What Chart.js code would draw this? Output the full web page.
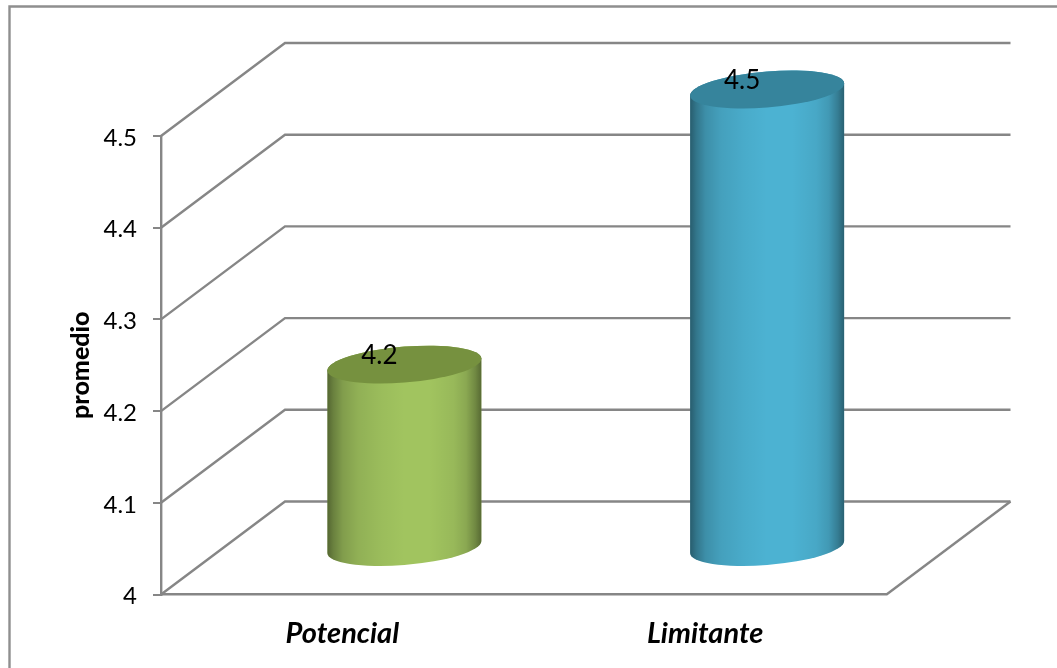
<!DOCTYPE html>
<html>
<head>
<meta charset="utf-8">
<style>html,body{margin:0;padding:0;background:#fff}canvas{display:block}</style>
<script src="https://cdn.jsdelivr.net/npm/chart.js@4/dist/chart.umd.js"></script>
</head>
<body>
<canvas id="c" width="1057" height="668"></canvas>
<script>
// Chart values
const categories = ['Potencial', 'Limitante'];
const promedio = [4.2, 4.5];
const yTickLabels = ['4', '4.1', '4.2', '4.3', '4.4', '4.5'];
const axisTitle = 'promedio';

// Cylinder colours per category
const sideColors = ['#a1c45f', '#4cb2d2'];
const capColors = ['#76913f', '#36849c'];

const LINE = '#868686';
const FONT = 'Lato, Carlito, sans-serif';
const DEPTH_X = 124, DEPTH_Y = 93;      // floor depth of the 3D box
const CAP_B = 18, CAP_TILT = 6;         // cap ellipse half-height and slant

// Bars are drawn as tilted cylinders standing mid-way along the floor depth
Chart.BarElement.prototype.draw = function (ctx) {
  const i = this.$context.dataIndex;
  const a = this.width / 2;
  const cx = this.x + DEPTH_X / 2;
  const top = this.y - DEPTH_Y / 2;
  const h = this.base - this.y;
  const shear = () => ctx.transform(1, -CAP_TILT / a, 0, 1, cx, top);

  ctx.save();
  ctx.beginPath();
  ctx.save();
  shear();
  ctx.ellipse(0, 0, a, CAP_B, 0, Math.PI, 2 * Math.PI);
  ctx.lineTo(a, h);
  ctx.ellipse(0, h, a, CAP_B, 0, 0, Math.PI);
  ctx.closePath();
  ctx.restore();
  ctx.fillStyle = sideColors[i];
  ctx.fill();

  const shade = ctx.createLinearGradient(cx - a, 0, cx + a, 0);
  [[0, .48], [.04, .34], [.1, .2], [.2, .1], [.35, .04], [.5, 0], [.66, 0],
   [.82, .06], [.9, .14], [.96, .3], [1, .46]]
    .forEach(([p, o]) => shade.addColorStop(p, `rgba(0,0,0,${o})`));
  ctx.fillStyle = shade;
  ctx.fill();

  ctx.beginPath();
  ctx.save();
  shear();
  ctx.ellipse(0, 0, a, CAP_B, 0, 0, 2 * Math.PI);
  ctx.restore();
  ctx.fillStyle = capColors[i];
  ctx.fill();
  ctx.restore();
};

// Outer frame, walls and floor of the 3D box, built on the value scale
const boxPlugin = {
  id: 'box',
  beforeDatasetsDraw(chart) {
    const { ctx, chartArea: area, scales: { y } } = chart;
    ctx.save();
    ctx.strokeStyle = LINE;
    ctx.lineWidth = 2.4;
    const backRight = area.right + DEPTH_X;

    yTickLabels.forEach((_, k) => {
      const py = y.getPixelForValue(y.min + k / 10);
      ctx.beginPath();
      ctx.moveTo(area.left, py);
      ctx.lineTo(area.left + DEPTH_X, py - DEPTH_Y);
      ctx.lineTo(backRight, py - DEPTH_Y);
      ctx.stroke();
    });

    ctx.beginPath();
    ctx.moveTo(area.right, area.bottom);
    ctx.lineTo(backRight, area.bottom - DEPTH_Y);
    ctx.stroke();

    ctx.strokeStyle = '#8f8f8f';
    ctx.beginPath();
    ctx.moveTo(9.5, 668);
    ctx.lineTo(9.5, 6.5);
    ctx.lineTo(1057, 6.5);
    ctx.stroke();
    ctx.restore();
  }
};

// Value text near the top of each cylinder
const valueLabels = {
  id: 'valueLabels',
  afterDatasetsDraw(chart) {
    const { ctx } = chart;
    ctx.save();
    ctx.font = '26px ' + FONT;
    ctx.fillStyle = '#000';
    ctx.textAlign = 'center';
    ctx.textBaseline = 'middle';
    chart.getDatasetMeta(0).data.forEach((bar, i) => {
      ctx.fillText(promedio[i].toFixed(1), bar.x + DEPTH_X / 2 - 25, bar.y - DEPTH_Y / 2 - 9);
    });
    ctx.restore();
  }
};

new Chart(document.getElementById('c'), {
  type: 'bar',
  data: {
    labels: categories,
    datasets: [{
      label: axisTitle,
      data: promedio,
      base: 4,
      backgroundColor: sideColors,
      barThickness: 154,
      clip: false
    }]
  },
  plugins: [boxPlugin, valueLabels],
  options: {
    responsive: false,
    animation: false,
    layout: { padding: { top: 136, right: 170.5, left: 0, bottom: 0 } },
    plugins: { legend: { display: false }, tooltip: { enabled: false } },
    scales: {
      x: {
        afterFit(s) { s.height = 73.5; },
        grid: { display: false },
        border: { display: true, color: LINE, width: 2.4 },
        ticks: {
          padding: 14,
          color: '#000',
          font: { family: FONT, size: 29, weight: 'bold', style: 'italic' },
          maxRotation: 0
        }
      },
      y: {
        min: 4,
        max: 4.5,
        afterFit(s) { s.width = 161; },
        afterBuildTicks(s) { s.ticks = yTickLabels.map(Number).map(value => ({ value })); },
        grid: { drawOnChartArea: false, color: LINE, lineWidth: 2, tickLength: 8 },
        border: { display: true, color: LINE, width: 2.4 },
        ticks: {
          padding: 16,
          labelOffset: 2,
          color: '#000',
          font: { family: FONT, size: 24 },
          callback: (v, k) => yTickLabels[k]
        },
        title: {
          display: true,
          text: axisTitle,
          color: '#000',
          font: { family: FONT, size: 25, weight: '900' },
          padding: { top: 66, bottom: 0 }
        }
      }
    }
  }
});
</script>
</body>
</html>
